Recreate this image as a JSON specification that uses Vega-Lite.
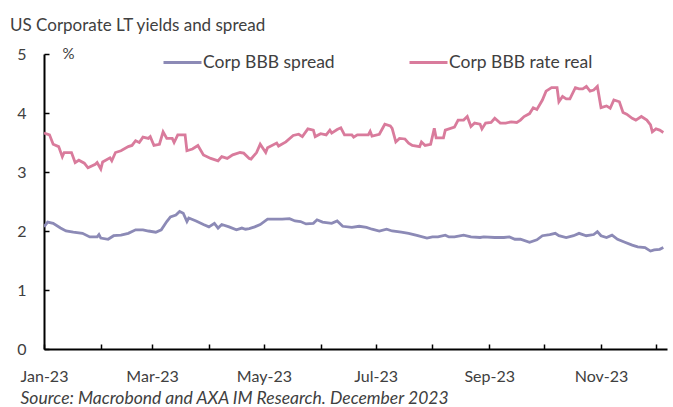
{
  "$schema": "https://vega.github.io/schema/vega-lite/v6.json",
  "autosize": {"type": "none"},
  "width": 623,
  "height": 295,
  "padding": {"left": 44, "top": 54, "right": 6, "bottom": 58},
  "background": "white",
  "config": {"view": {"stroke": null}, "font": "Lato"},
  "title": {
    "text": "US Corporate LT yields and spread",
    "anchor": "start",
    "frame": "group",
    "dx": -34,
    "dy": 3,
    "offset": 10,
    "font": "Lato",
    "fontSize": 17,
    "fontWeight": "normal",
    "color": "#404040"
  },
  "data": {
    "values": [
      {"d": "2023-01-01", "s": "Corp BBB rate real", "v": 3.66},
      {"d": "2023-01-04", "s": "Corp BBB rate real", "v": 3.63},
      {"d": "2023-01-06", "s": "Corp BBB rate real", "v": 3.47},
      {"d": "2023-01-09", "s": "Corp BBB rate real", "v": 3.43},
      {"d": "2023-01-11", "s": "Corp BBB rate real", "v": 3.26},
      {"d": "2023-01-12", "s": "Corp BBB rate real", "v": 3.33},
      {"d": "2023-01-16", "s": "Corp BBB rate real", "v": 3.33},
      {"d": "2023-01-18", "s": "Corp BBB rate real", "v": 3.16},
      {"d": "2023-01-20", "s": "Corp BBB rate real", "v": 3.2},
      {"d": "2023-01-23", "s": "Corp BBB rate real", "v": 3.15},
      {"d": "2023-01-25", "s": "Corp BBB rate real", "v": 3.07},
      {"d": "2023-01-29", "s": "Corp BBB rate real", "v": 3.13},
      {"d": "2023-01-30", "s": "Corp BBB rate real", "v": 3.16},
      {"d": "2023-02-01", "s": "Corp BBB rate real", "v": 3.05},
      {"d": "2023-02-02", "s": "Corp BBB rate real", "v": 3.17},
      {"d": "2023-02-06", "s": "Corp BBB rate real", "v": 3.24},
      {"d": "2023-02-07", "s": "Corp BBB rate real", "v": 3.19},
      {"d": "2023-02-09", "s": "Corp BBB rate real", "v": 3.33},
      {"d": "2023-02-12", "s": "Corp BBB rate real", "v": 3.36},
      {"d": "2023-02-16", "s": "Corp BBB rate real", "v": 3.43},
      {"d": "2023-02-18", "s": "Corp BBB rate real", "v": 3.45},
      {"d": "2023-02-20", "s": "Corp BBB rate real", "v": 3.53},
      {"d": "2023-02-22", "s": "Corp BBB rate real", "v": 3.5},
      {"d": "2023-02-24", "s": "Corp BBB rate real", "v": 3.59},
      {"d": "2023-02-27", "s": "Corp BBB rate real", "v": 3.57},
      {"d": "2023-02-28", "s": "Corp BBB rate real", "v": 3.6},
      {"d": "2023-03-02", "s": "Corp BBB rate real", "v": 3.45},
      {"d": "2023-03-05", "s": "Corp BBB rate real", "v": 3.47},
      {"d": "2023-03-07", "s": "Corp BBB rate real", "v": 3.68},
      {"d": "2023-03-09", "s": "Corp BBB rate real", "v": 3.57},
      {"d": "2023-03-12", "s": "Corp BBB rate real", "v": 3.57},
      {"d": "2023-03-13", "s": "Corp BBB rate real", "v": 3.5},
      {"d": "2023-03-15", "s": "Corp BBB rate real", "v": 3.63},
      {"d": "2023-03-19", "s": "Corp BBB rate real", "v": 3.63},
      {"d": "2023-03-20", "s": "Corp BBB rate real", "v": 3.36},
      {"d": "2023-03-23", "s": "Corp BBB rate real", "v": 3.39},
      {"d": "2023-03-26", "s": "Corp BBB rate real", "v": 3.45},
      {"d": "2023-03-29", "s": "Corp BBB rate real", "v": 3.29},
      {"d": "2023-04-02", "s": "Corp BBB rate real", "v": 3.23},
      {"d": "2023-04-06", "s": "Corp BBB rate real", "v": 3.19},
      {"d": "2023-04-08", "s": "Corp BBB rate real", "v": 3.26},
      {"d": "2023-04-11", "s": "Corp BBB rate real", "v": 3.23},
      {"d": "2023-04-14", "s": "Corp BBB rate real", "v": 3.29},
      {"d": "2023-04-18", "s": "Corp BBB rate real", "v": 3.33},
      {"d": "2023-04-20", "s": "Corp BBB rate real", "v": 3.32},
      {"d": "2023-04-23", "s": "Corp BBB rate real", "v": 3.23},
      {"d": "2023-04-24", "s": "Corp BBB rate real", "v": 3.22},
      {"d": "2023-04-27", "s": "Corp BBB rate real", "v": 3.33},
      {"d": "2023-04-29", "s": "Corp BBB rate real", "v": 3.47},
      {"d": "2023-05-02", "s": "Corp BBB rate real", "v": 3.33},
      {"d": "2023-05-03", "s": "Corp BBB rate real", "v": 3.41},
      {"d": "2023-05-08", "s": "Corp BBB rate real", "v": 3.49},
      {"d": "2023-05-09", "s": "Corp BBB rate real", "v": 3.44},
      {"d": "2023-05-13", "s": "Corp BBB rate real", "v": 3.51},
      {"d": "2023-05-17", "s": "Corp BBB rate real", "v": 3.62},
      {"d": "2023-05-20", "s": "Corp BBB rate real", "v": 3.64},
      {"d": "2023-05-22", "s": "Corp BBB rate real", "v": 3.6},
      {"d": "2023-05-25", "s": "Corp BBB rate real", "v": 3.73},
      {"d": "2023-05-28", "s": "Corp BBB rate real", "v": 3.71},
      {"d": "2023-05-29", "s": "Corp BBB rate real", "v": 3.6},
      {"d": "2023-06-01", "s": "Corp BBB rate real", "v": 3.65},
      {"d": "2023-06-04", "s": "Corp BBB rate real", "v": 3.63},
      {"d": "2023-06-06", "s": "Corp BBB rate real", "v": 3.71},
      {"d": "2023-06-07", "s": "Corp BBB rate real", "v": 3.66},
      {"d": "2023-06-10", "s": "Corp BBB rate real", "v": 3.72},
      {"d": "2023-06-12", "s": "Corp BBB rate real", "v": 3.75},
      {"d": "2023-06-14", "s": "Corp BBB rate real", "v": 3.63},
      {"d": "2023-06-18", "s": "Corp BBB rate real", "v": 3.63},
      {"d": "2023-06-19", "s": "Corp BBB rate real", "v": 3.59},
      {"d": "2023-06-21", "s": "Corp BBB rate real", "v": 3.63},
      {"d": "2023-06-27", "s": "Corp BBB rate real", "v": 3.63},
      {"d": "2023-06-28", "s": "Corp BBB rate real", "v": 3.69},
      {"d": "2023-06-29", "s": "Corp BBB rate real", "v": 3.61},
      {"d": "2023-07-03", "s": "Corp BBB rate real", "v": 3.64},
      {"d": "2023-07-06", "s": "Corp BBB rate real", "v": 3.81},
      {"d": "2023-07-09", "s": "Corp BBB rate real", "v": 3.78},
      {"d": "2023-07-10", "s": "Corp BBB rate real", "v": 3.74},
      {"d": "2023-07-12", "s": "Corp BBB rate real", "v": 3.51},
      {"d": "2023-07-14", "s": "Corp BBB rate real", "v": 3.57},
      {"d": "2023-07-17", "s": "Corp BBB rate real", "v": 3.56},
      {"d": "2023-07-19", "s": "Corp BBB rate real", "v": 3.49},
      {"d": "2023-07-21", "s": "Corp BBB rate real", "v": 3.45},
      {"d": "2023-07-25", "s": "Corp BBB rate real", "v": 3.43},
      {"d": "2023-07-26", "s": "Corp BBB rate real", "v": 3.51},
      {"d": "2023-07-28", "s": "Corp BBB rate real", "v": 3.45},
      {"d": "2023-07-31", "s": "Corp BBB rate real", "v": 3.47},
      {"d": "2023-08-02", "s": "Corp BBB rate real", "v": 3.74},
      {"d": "2023-08-03", "s": "Corp BBB rate real", "v": 3.58},
      {"d": "2023-08-07", "s": "Corp BBB rate real", "v": 3.58},
      {"d": "2023-08-08", "s": "Corp BBB rate real", "v": 3.71},
      {"d": "2023-08-13", "s": "Corp BBB rate real", "v": 3.76},
      {"d": "2023-08-15", "s": "Corp BBB rate real", "v": 3.88},
      {"d": "2023-08-18", "s": "Corp BBB rate real", "v": 3.88},
      {"d": "2023-08-20", "s": "Corp BBB rate real", "v": 3.94},
      {"d": "2023-08-22", "s": "Corp BBB rate real", "v": 3.77},
      {"d": "2023-08-24", "s": "Corp BBB rate real", "v": 3.83},
      {"d": "2023-08-27", "s": "Corp BBB rate real", "v": 3.81},
      {"d": "2023-08-28", "s": "Corp BBB rate real", "v": 3.73},
      {"d": "2023-08-30", "s": "Corp BBB rate real", "v": 3.83},
      {"d": "2023-09-02", "s": "Corp BBB rate real", "v": 3.84},
      {"d": "2023-09-04", "s": "Corp BBB rate real", "v": 3.91},
      {"d": "2023-09-07", "s": "Corp BBB rate real", "v": 3.83},
      {"d": "2023-09-10", "s": "Corp BBB rate real", "v": 3.83},
      {"d": "2023-09-13", "s": "Corp BBB rate real", "v": 3.85},
      {"d": "2023-09-16", "s": "Corp BBB rate real", "v": 3.84},
      {"d": "2023-09-18", "s": "Corp BBB rate real", "v": 3.88},
      {"d": "2023-09-20", "s": "Corp BBB rate real", "v": 3.94},
      {"d": "2023-09-23", "s": "Corp BBB rate real", "v": 3.99},
      {"d": "2023-09-25", "s": "Corp BBB rate real", "v": 4.09},
      {"d": "2023-09-27", "s": "Corp BBB rate real", "v": 4.06},
      {"d": "2023-09-30", "s": "Corp BBB rate real", "v": 4.22},
      {"d": "2023-10-02", "s": "Corp BBB rate real", "v": 4.37},
      {"d": "2023-10-05", "s": "Corp BBB rate real", "v": 4.43},
      {"d": "2023-10-08", "s": "Corp BBB rate real", "v": 4.43},
      {"d": "2023-10-09", "s": "Corp BBB rate real", "v": 4.19},
      {"d": "2023-10-11", "s": "Corp BBB rate real", "v": 4.28},
      {"d": "2023-10-13", "s": "Corp BBB rate real", "v": 4.24},
      {"d": "2023-10-15", "s": "Corp BBB rate real", "v": 4.24},
      {"d": "2023-10-18", "s": "Corp BBB rate real", "v": 4.43},
      {"d": "2023-10-20", "s": "Corp BBB rate real", "v": 4.41},
      {"d": "2023-10-22", "s": "Corp BBB rate real", "v": 4.41},
      {"d": "2023-10-24", "s": "Corp BBB rate real", "v": 4.45},
      {"d": "2023-10-26", "s": "Corp BBB rate real", "v": 4.37},
      {"d": "2023-10-28", "s": "Corp BBB rate real", "v": 4.39},
      {"d": "2023-10-30", "s": "Corp BBB rate real", "v": 4.45},
      {"d": "2023-11-01", "s": "Corp BBB rate real", "v": 4.09},
      {"d": "2023-11-04", "s": "Corp BBB rate real", "v": 4.12},
      {"d": "2023-11-06", "s": "Corp BBB rate real", "v": 4.08},
      {"d": "2023-11-08", "s": "Corp BBB rate real", "v": 4.22},
      {"d": "2023-11-11", "s": "Corp BBB rate real", "v": 4.19},
      {"d": "2023-11-13", "s": "Corp BBB rate real", "v": 4.01},
      {"d": "2023-11-15", "s": "Corp BBB rate real", "v": 3.98},
      {"d": "2023-11-18", "s": "Corp BBB rate real", "v": 3.91},
      {"d": "2023-11-20", "s": "Corp BBB rate real", "v": 3.88},
      {"d": "2023-11-23", "s": "Corp BBB rate real", "v": 3.94},
      {"d": "2023-11-26", "s": "Corp BBB rate real", "v": 3.88},
      {"d": "2023-11-28", "s": "Corp BBB rate real", "v": 3.8},
      {"d": "2023-11-29", "s": "Corp BBB rate real", "v": 3.68},
      {"d": "2023-12-01", "s": "Corp BBB rate real", "v": 3.73},
      {"d": "2023-12-03", "s": "Corp BBB rate real", "v": 3.71},
      {"d": "2023-12-05", "s": "Corp BBB rate real", "v": 3.67},
      {"d": "2023-01-01", "s": "Corp BBB spread", "v": 2.07},
      {"d": "2023-01-03", "s": "Corp BBB spread", "v": 2.15},
      {"d": "2023-01-06", "s": "Corp BBB spread", "v": 2.13},
      {"d": "2023-01-10", "s": "Corp BBB spread", "v": 2.05},
      {"d": "2023-01-13", "s": "Corp BBB spread", "v": 2.0},
      {"d": "2023-01-17", "s": "Corp BBB spread", "v": 1.98},
      {"d": "2023-01-22", "s": "Corp BBB spread", "v": 1.96},
      {"d": "2023-01-26", "s": "Corp BBB spread", "v": 1.9},
      {"d": "2023-01-30", "s": "Corp BBB spread", "v": 1.9},
      {"d": "2023-01-31", "s": "Corp BBB spread", "v": 1.94},
      {"d": "2023-02-01", "s": "Corp BBB spread", "v": 1.88},
      {"d": "2023-02-05", "s": "Corp BBB spread", "v": 1.86},
      {"d": "2023-02-08", "s": "Corp BBB spread", "v": 1.92},
      {"d": "2023-02-12", "s": "Corp BBB spread", "v": 1.93},
      {"d": "2023-02-16", "s": "Corp BBB spread", "v": 1.96},
      {"d": "2023-02-20", "s": "Corp BBB spread", "v": 2.02},
      {"d": "2023-02-24", "s": "Corp BBB spread", "v": 2.02},
      {"d": "2023-02-27", "s": "Corp BBB spread", "v": 2.0},
      {"d": "2023-03-03", "s": "Corp BBB spread", "v": 1.98},
      {"d": "2023-03-06", "s": "Corp BBB spread", "v": 2.02},
      {"d": "2023-03-09", "s": "Corp BBB spread", "v": 2.16},
      {"d": "2023-03-11", "s": "Corp BBB spread", "v": 2.24},
      {"d": "2023-03-14", "s": "Corp BBB spread", "v": 2.27},
      {"d": "2023-03-16", "s": "Corp BBB spread", "v": 2.33},
      {"d": "2023-03-18", "s": "Corp BBB spread", "v": 2.3},
      {"d": "2023-03-20", "s": "Corp BBB spread", "v": 2.16},
      {"d": "2023-03-21", "s": "Corp BBB spread", "v": 2.22},
      {"d": "2023-03-25", "s": "Corp BBB spread", "v": 2.17},
      {"d": "2023-03-29", "s": "Corp BBB spread", "v": 2.11},
      {"d": "2023-04-01", "s": "Corp BBB spread", "v": 2.07},
      {"d": "2023-04-04", "s": "Corp BBB spread", "v": 2.13},
      {"d": "2023-04-06", "s": "Corp BBB spread", "v": 2.05},
      {"d": "2023-04-08", "s": "Corp BBB spread", "v": 2.11},
      {"d": "2023-04-12", "s": "Corp BBB spread", "v": 2.07},
      {"d": "2023-04-16", "s": "Corp BBB spread", "v": 2.02},
      {"d": "2023-04-19", "s": "Corp BBB spread", "v": 2.05},
      {"d": "2023-04-21", "s": "Corp BBB spread", "v": 2.03},
      {"d": "2023-04-23", "s": "Corp BBB spread", "v": 2.04},
      {"d": "2023-04-26", "s": "Corp BBB spread", "v": 2.07},
      {"d": "2023-04-29", "s": "Corp BBB spread", "v": 2.11},
      {"d": "2023-05-03", "s": "Corp BBB spread", "v": 2.2},
      {"d": "2023-05-08", "s": "Corp BBB spread", "v": 2.2},
      {"d": "2023-05-11", "s": "Corp BBB spread", "v": 2.2},
      {"d": "2023-05-15", "s": "Corp BBB spread", "v": 2.21},
      {"d": "2023-05-18", "s": "Corp BBB spread", "v": 2.17},
      {"d": "2023-05-21", "s": "Corp BBB spread", "v": 2.16},
      {"d": "2023-05-24", "s": "Corp BBB spread", "v": 2.12},
      {"d": "2023-05-28", "s": "Corp BBB spread", "v": 2.13},
      {"d": "2023-05-30", "s": "Corp BBB spread", "v": 2.19},
      {"d": "2023-06-02", "s": "Corp BBB spread", "v": 2.15},
      {"d": "2023-06-07", "s": "Corp BBB spread", "v": 2.13},
      {"d": "2023-06-10", "s": "Corp BBB spread", "v": 2.17},
      {"d": "2023-06-13", "s": "Corp BBB spread", "v": 2.08},
      {"d": "2023-06-18", "s": "Corp BBB spread", "v": 2.06},
      {"d": "2023-06-22", "s": "Corp BBB spread", "v": 2.08},
      {"d": "2023-06-26", "s": "Corp BBB spread", "v": 2.06},
      {"d": "2023-06-29", "s": "Corp BBB spread", "v": 2.03},
      {"d": "2023-07-03", "s": "Corp BBB spread", "v": 2.0},
      {"d": "2023-07-07", "s": "Corp BBB spread", "v": 2.03},
      {"d": "2023-07-10", "s": "Corp BBB spread", "v": 2.0},
      {"d": "2023-07-15", "s": "Corp BBB spread", "v": 1.98},
      {"d": "2023-07-19", "s": "Corp BBB spread", "v": 1.96},
      {"d": "2023-07-24", "s": "Corp BBB spread", "v": 1.92},
      {"d": "2023-07-29", "s": "Corp BBB spread", "v": 1.88},
      {"d": "2023-08-01", "s": "Corp BBB spread", "v": 1.9},
      {"d": "2023-08-04", "s": "Corp BBB spread", "v": 1.9},
      {"d": "2023-08-08", "s": "Corp BBB spread", "v": 1.93},
      {"d": "2023-08-10", "s": "Corp BBB spread", "v": 1.9},
      {"d": "2023-08-13", "s": "Corp BBB spread", "v": 1.9},
      {"d": "2023-08-18", "s": "Corp BBB spread", "v": 1.93},
      {"d": "2023-08-22", "s": "Corp BBB spread", "v": 1.9},
      {"d": "2023-08-27", "s": "Corp BBB spread", "v": 1.89},
      {"d": "2023-08-29", "s": "Corp BBB spread", "v": 1.9},
      {"d": "2023-09-04", "s": "Corp BBB spread", "v": 1.89},
      {"d": "2023-09-09", "s": "Corp BBB spread", "v": 1.89},
      {"d": "2023-09-12", "s": "Corp BBB spread", "v": 1.9},
      {"d": "2023-09-15", "s": "Corp BBB spread", "v": 1.86},
      {"d": "2023-09-18", "s": "Corp BBB spread", "v": 1.86},
      {"d": "2023-09-23", "s": "Corp BBB spread", "v": 1.81},
      {"d": "2023-09-27", "s": "Corp BBB spread", "v": 1.85},
      {"d": "2023-09-30", "s": "Corp BBB spread", "v": 1.92},
      {"d": "2023-10-04", "s": "Corp BBB spread", "v": 1.94},
      {"d": "2023-10-07", "s": "Corp BBB spread", "v": 1.96},
      {"d": "2023-10-09", "s": "Corp BBB spread", "v": 1.92},
      {"d": "2023-10-13", "s": "Corp BBB spread", "v": 1.89},
      {"d": "2023-10-17", "s": "Corp BBB spread", "v": 1.92},
      {"d": "2023-10-20", "s": "Corp BBB spread", "v": 1.96},
      {"d": "2023-10-24", "s": "Corp BBB spread", "v": 1.92},
      {"d": "2023-10-28", "s": "Corp BBB spread", "v": 1.94},
      {"d": "2023-10-30", "s": "Corp BBB spread", "v": 1.99},
      {"d": "2023-11-01", "s": "Corp BBB spread", "v": 1.92},
      {"d": "2023-11-04", "s": "Corp BBB spread", "v": 1.89},
      {"d": "2023-11-07", "s": "Corp BBB spread", "v": 1.93},
      {"d": "2023-11-10", "s": "Corp BBB spread", "v": 1.86},
      {"d": "2023-11-14", "s": "Corp BBB spread", "v": 1.81},
      {"d": "2023-11-18", "s": "Corp BBB spread", "v": 1.76},
      {"d": "2023-11-21", "s": "Corp BBB spread", "v": 1.73},
      {"d": "2023-11-25", "s": "Corp BBB spread", "v": 1.72},
      {"d": "2023-11-28", "s": "Corp BBB spread", "v": 1.66},
      {"d": "2023-11-30", "s": "Corp BBB spread", "v": 1.68},
      {"d": "2023-12-03", "s": "Corp BBB spread", "v": 1.69},
      {"d": "2023-12-05", "s": "Corp BBB spread", "v": 1.72}
    ]
  },
  "mark": {"type": "line", "strokeWidth": 2.8, "clip": true},
  "encoding": {
    "x": {
      "field": "d",
      "type": "temporal",
      "scale": {
        "type": "utc",
        "domain": [
          {"year": 2023, "month": 1, "date": 1, "utc": true},
          {"year": 2023, "month": 12, "date": 7, "utc": true}
        ]
      },
      "axis": {
        "values": [
          {"year": 2023, "month": 1, "date": 1, "utc": true},
          {"year": 2023, "month": 2, "date": 1, "utc": true},
          {"year": 2023, "month": 3, "date": 1, "utc": true},
          {"year": 2023, "month": 4, "date": 1, "utc": true},
          {"year": 2023, "month": 5, "date": 1, "utc": true},
          {"year": 2023, "month": 6, "date": 1, "utc": true},
          {"year": 2023, "month": 7, "date": 1, "utc": true},
          {"year": 2023, "month": 8, "date": 1, "utc": true},
          {"year": 2023, "month": 9, "date": 1, "utc": true},
          {"year": 2023, "month": 10, "date": 1, "utc": true},
          {"year": 2023, "month": 11, "date": 1, "utc": true},
          {"year": 2023, "month": 12, "date": 1, "utc": true}
        ],
        "labelExpr": "utcmonth(datum.value) % 2 == 0 ? utcFormat(datum.value, '%b-%y') : ''",
        "grid": false,
        "domainColor": "#000000",
        "domainWidth": 2,
        "tickColor": "#000000",
        "tickWidth": 1.5,
        "tickSize": -5,
        "labelPadding": 24,
        "labelFlush": false,
        "labelOverlap": false,
        "labelBound": false,
        "labelFont": "Lato",
        "labelFontSize": 16,
        "labelColor": "#404040",
        "title": "Source: Macrobond and AXA IM Research. December 2023",
        "titleFont": "Lato",
        "titleFontSize": 17.5,
        "titleFontStyle": "italic",
        "titleFontWeight": "normal",
        "titleColor": "#404040",
        "titleAnchor": "start",
        "titleAlign": "left",
        "titleBaseline": "middle",
        "titleX": -24,
        "titleY": 49
      }
    },
    "y": {
      "field": "v",
      "type": "quantitative",
      "scale": {"domain": [0, 5], "nice": false, "zero": true},
      "axis": {
        "values": [0, 1, 2, 3, 4, 5],
        "grid": false,
        "domainColor": "#000000",
        "domainWidth": 2,
        "tickColor": "#000000",
        "tickWidth": 1.5,
        "tickSize": -5,
        "labelPadding": 23,
        "labelFont": "Lato",
        "labelFontSize": 16,
        "labelColor": "#404040",
        "title": "%",
        "titleAngle": 0,
        "titleFont": "Lato",
        "titleFontSize": 15,
        "titleFontWeight": "normal",
        "titleColor": "#404040",
        "titleAlign": "left",
        "titleBaseline": "middle",
        "titleX": 18,
        "titleY": -1
      }
    },
    "color": {
      "field": "s",
      "type": "nominal",
      "scale": {
        "domain": ["Corp BBB spread", "Corp BBB rate real"],
        "range": ["#8c8ab6", "#d97b9c"]
      },
      "legend": {
        "orient": "none",
        "legendX": 118,
        "legendY": -12,
        "direction": "horizontal",
        "title": null,
        "symbolType": "stroke",
        "symbolSize": 1444,
        "symbolStrokeWidth": 3,
        "labelFont": "Lato",
        "labelFontSize": 17.5,
        "labelColor": "#404040",
        "labelOffset": 0,
        "columnPadding": 68
      }
    }
  }
}
